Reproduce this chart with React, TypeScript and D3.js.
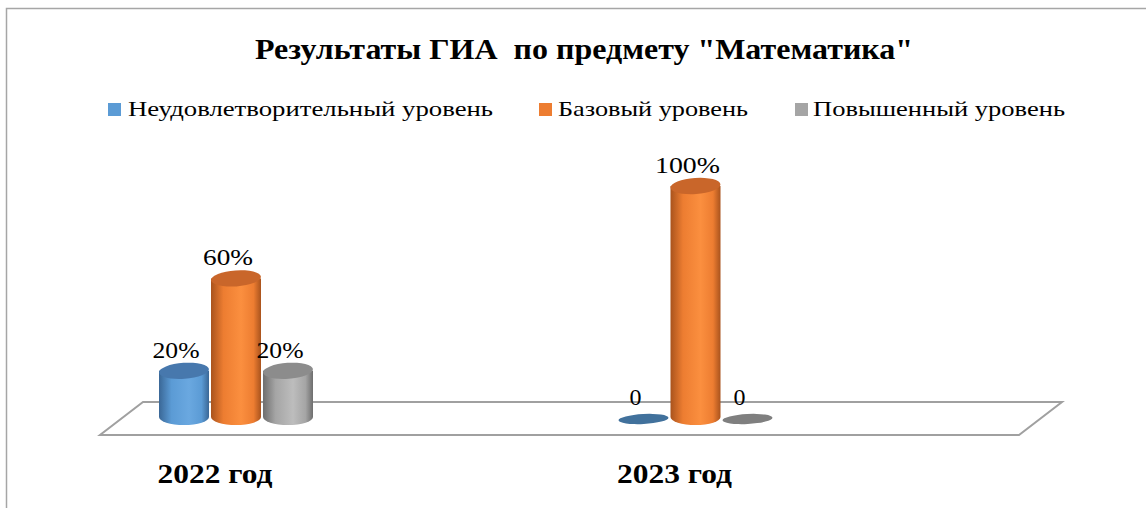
import React from "react";
import * as d3 from "d3";

const categories = ["2022 год", "2023 год"];
const seriesNames = ["Неудовлетворительный уровень", "Базовый уровень", "Повышенный уровень"];
const unsatisfactory = [0.2, 0];
const basic = [0.6, 1.0];
const advanced = [0.2, 0];
const dataLabels = [["20%", "0"], ["60%", "100%"], ["20%", "0"]];
const title = "Результаты ГИА  по предмету \"Математика\"";

const seriesValues = [unsatisfactory, basic, advanced];
const palette = [
  { dark: "#3a6796", mid: "#5b9bd5", light: "#6aa8e0", top: "#4778ad", flat: "#41719c" },
  { dark: "#a9531d", mid: "#ed7d31", light: "#fb8f3f", top: "#c9662a", flat: "#c55a11" },
  { dark: "#6e6e6e", mid: "#a5a5a5", light: "#bdbdbd", top: "#8c8c8c", flat: "#7f7f7f" },
];

const W = 1146;
const H = 508;
const FONT = "'Liberation Serif', 'Times New Roman', serif";

// approximate rendered widths of the (horizontally stretched) reference text
const legendLayout = [
  { x: 108, tx: 128, len: 365 },
  { x: 539, tx: 558, len: 190 },
  { x: 795, tx: 813, len: 252 },
];
const labelLens = [[47, 12], [50, 65], [47, 12]];

export default function App() {
  const x = d3.scalePoint<string>().domain(categories).range([236, 695.5]);
  const inner = d3.scaleBand<number>().domain([0, 1, 2]).range([-78, 78]).paddingInner(0);
  const y = d3.scaleLinear().domain([0, 1]).range([417, 186]);
  const bw = inner.bandwidth();
  const ry = 8;

  const floor = [
    [143, 402],
    [1062, 402],
    [1019, 435],
    [100, 435],
  ];
  const floorPath = d3.line()(floor as [number, number][]) + "Z";

  return (
    <svg width={W} height={H} style={{ position: "absolute", left: 0, top: 0, background: "#fff" }} fontFamily={FONT}>
      <defs>
        {palette.map((p, i) => (
          <linearGradient key={i} id={`cyl${i}`} x1="0" x2="1" y1="0" y2="0">
            <stop offset="0" stopColor={p.dark} />
            <stop offset="0.25" stopColor={p.mid} />
            <stop offset="0.6" stopColor={p.light} />
            <stop offset="0.85" stopColor={p.mid} />
            <stop offset="1" stopColor={p.dark} />
          </linearGradient>
        ))}
      </defs>
      <rect x={6.5} y={8.5} width={W + 10} height={H + 10} fill="#fff" stroke="#a6a6a6" strokeWidth={1.5} />
      <text
        x={584}
        y={59}
        textAnchor="middle"
        fontSize={29}
        fontWeight="bold"
        fill="#000"
        textLength={658}
        lengthAdjust="spacingAndGlyphs"
        style={{ whiteSpace: "pre" }}
      >
        {title}
      </text>
      {seriesNames.map((s, i) => (
        <g key={s}>
          <rect x={legendLayout[i].x} y={103} width={13} height={13} fill={palette[i].mid} />
          <text
            x={legendLayout[i].tx}
            y={116}
            fontSize={22}
            fill="#000"
            textLength={legendLayout[i].len}
            lengthAdjust="spacingAndGlyphs"
          >
            {s}
          </text>
        </g>
      ))}
      <path d={floorPath} fill="#fff" stroke="#a0a0a0" strokeWidth={2} strokeLinejoin="miter" />
      {categories.map((c, ci) => (
        <g key={c}>
          {seriesValues.map((vals, si) => {
            const v = vals[ci];
            const cx = (x(c) as number) + (inner(si) as number) + bw / 2;
            const x0 = cx - bw / 2 + 1;
            const w = bw - 2;
            const yb = y(0);
            const yt = y(v);
            const rx = w / 2;
            if (v === 0) {
              return (
                <ellipse key={si} cx={cx} cy={yb + 2} rx={rx} ry={5} fill={palette[si].flat} transform={`rotate(-3 ${cx} ${yb + 2})`} />
              );
            }
            const body = `M${x0},${yt} L${x0},${yb} A${rx},${ry} 0 0 0 ${x0 + w},${yb} L${x0 + w},${yt} Z`;
            return (
              <g key={si}>
                <path d={body} fill={`url(#cyl${si})`} />
                <ellipse cx={cx} cy={yt} rx={rx} ry={ry} fill={palette[si].top} transform={`rotate(-4 ${cx} ${yt})`} />
              </g>
            );
          })}
          {seriesValues.map((vals, si) => {
            const v = vals[ci];
            const cx = (x(c) as number) + (inner(si) as number) + bw / 2;
            return (
              <text
                key={`l${si}`}
                x={cx - 8}
                y={y(v) - (v === 0 ? 12 : 13)}
                textAnchor="middle"
                fontSize={23}
                fill="#000"
                textLength={labelLens[si][ci]}
                lengthAdjust="spacingAndGlyphs"
              >
                {dataLabels[si][ci]}
              </text>
            );
          })}
          <text
            x={(x(c) as number) - 21}
            y={483}
            textAnchor="middle"
            fontSize={28}
            fontWeight="bold"
            fill="#000"
            textLength={115}
            lengthAdjust="spacingAndGlyphs"
          >
            {c}
          </text>
        </g>
      ))}
    </svg>
  );
}
